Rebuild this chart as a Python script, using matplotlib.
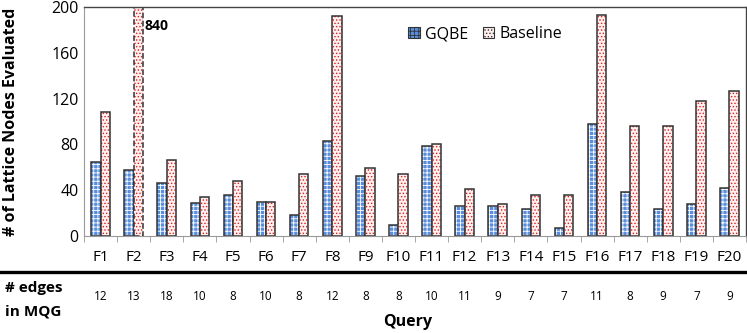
import matplotlib
matplotlib.use("Agg")
import matplotlib.pyplot as plt
from matplotlib.lines import Line2D
from matplotlib.patches import Patch
import numpy as np

plt.rcParams['font.family'] = ['Open Sans', 'DejaVu Sans']
plt.rcParams['hatch.linewidth'] = 0.6

queries = ["F%d" % i for i in range(1, 21)]
gqbe = [65, 58, 46, 29, 36, 30, 18, 83, 52, 10, 79, 26, 26, 24, 7, 98, 38, 24, 28, 42]
baseline = [108, 840, 66, 34, 48, 30, 54, 192, 59, 54, 80, 41, 28, 36, 36, 193, 96, 96, 118, 127]
edges = [12, 13, 18, 10, 8, 10, 8, 12, 8, 8, 10, 11, 9, 7, 7, 11, 8, 9, 7, 9]

W, H = 747, 333
fig = plt.figure(figsize=(W / 100, H / 100), dpi=100)
ax = fig.add_axes([84 / W, 1 - 236 / H, (746 - 84) / W, (236 - 7) / H])

x = np.arange(len(queries))
bw = 0.28
blue_face = '#5A8EDC'
red_face = '#FFEFEF'
edge = '#333333'

# GQBE bars
ax.bar(x - bw / 2, gqbe, bw, facecolor=blue_face, edgecolor='white', hatch='++++', linewidth=0)
ax.bar(x - bw / 2, gqbe, bw, facecolor='none', edgecolor=edge, linewidth=1.1)
# Baseline bars
bl_clip = [min(v, 200) for v in baseline]
ax.bar(x + bw / 2, bl_clip, bw, facecolor=red_face, edgecolor='#E02020', hatch='.....', linewidth=0)
styles = ['--' if v > 200 else '-' for v in baseline]
bars = ax.bar(x + bw / 2, bl_clip, bw, facecolor='none', edgecolor=edge, linewidth=1.1)
for b, s in zip(bars, styles):
    b.set_linestyle(s)

for i, v in enumerate(baseline):
    if v > 200:
        ax.text(i + bw + 0.06, 183, str(v), fontsize=10, fontweight='bold', ha='left', va='center')

ax.set_xlim(-0.5, len(queries) - 0.5)
ax.set_ylim(0, 200)
ax.set_yticks([0, 40, 80, 120, 160, 200])
ax.tick_params(axis='y', length=0, labelsize=11.5, pad=4)
ax.set_xticks(x)
ax.set_xticklabels(queries, fontsize=11)
ax.tick_params(axis='x', length=0, pad=10)
ax.set_xticks(np.arange(-0.5, len(queries), 1), minor=True)
ax.tick_params(axis='x', which='minor', length=4, color='#999999', direction='out')
for s in ['top', 'right']:
    ax.spines[s].set_color('#444444')
    ax.spines[s].set_linewidth(1.0)
ax.spines['left'].set_color('#999999')
ax.spines['bottom'].set_color('#999999')

ax.set_ylabel('# of Lattice Nodes Evaluated', fontsize=11.5, fontweight='bold')
ax.yaxis.set_label_coords(-0.098, 0.5)

handles = [Patch(facecolor=blue_face, edgecolor='white', hatch='++++', linewidth=0),
           Patch(facecolor=red_face, edgecolor='#E02020', hatch='.....', linewidth=0)]
leg = ax.legend(handles, ['GQBE', 'Baseline'], loc='upper left', bbox_to_anchor=(0.49, 0.915),
                ncol=2, frameon=False, fontsize=11.5, handlelength=0.7, handleheight=0.7,
                columnspacing=0.9, handletextpad=0.35, borderpad=0, borderaxespad=0)
for p in leg.get_patches():
    p.set_edgecolor(edge)
    p.set_linewidth(0.8)

# Thick separator line
fig.add_artist(Line2D([0, 745 / W], [1 - 272 / H, 1 - 272 / H], color='black', linewidth=2.4))

fig.text(5 / W, 1 - 288 / H, '# edges', fontsize=11, fontweight='bold', va='center', ha='left')
fig.text(5 / W, 1 - 311 / H, 'in MQG', fontsize=11, fontweight='bold', va='center', ha='left')

for i, e in enumerate(edges):
    xf = (84 + (i + 0.5) * (746 - 84) / len(queries)) / W
    fig.text(xf, 1 - 296 / H, str(e), fontsize=8.5, ha='center', va='center')

fig.text(408 / W, 1 - 322 / H, 'Query', fontsize=11.5, fontweight='bold', ha='center', va='center')

fig.savefig('out.png', dpi=100)
